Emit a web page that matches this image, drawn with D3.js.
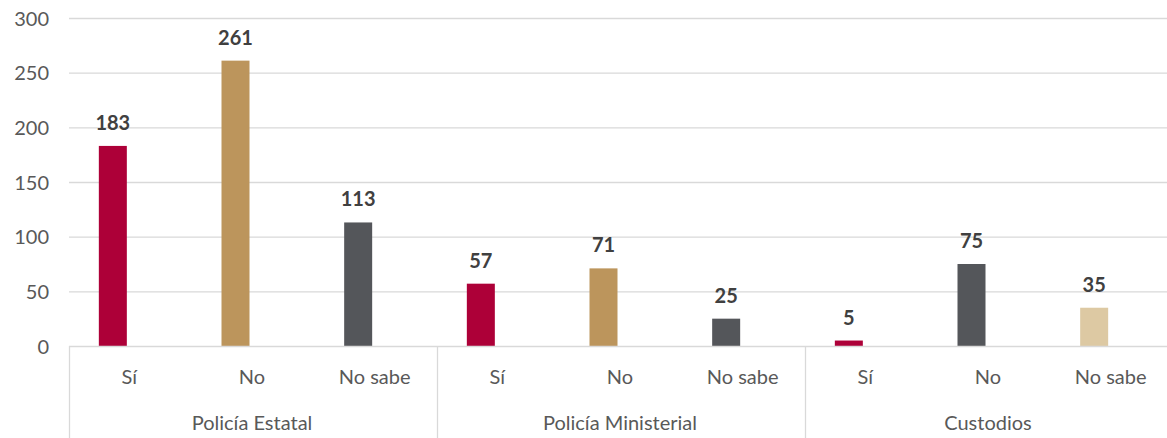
<!DOCTYPE html>
<html><head><meta charset="utf-8">
<script src="https://cdn.jsdelivr.net/npm/d3@7"></script>
<style>body{margin:0;background:#fff;overflow:hidden}svg{display:block}</style>
</head><body>
<svg id="c" width="1167" height="438"></svg>
<script>
const groups = ["Policía Estatal", "Policía Ministerial", "Custodios"];
const categories = ["Sí", "No", "No sabe"];
const values = [[183, 261, 113], [57, 71, 25], [5, 75, 35]];
const barColors = [["#AD0038", "#BC955C", "#54565A"], ["#AD0038", "#BC955C", "#54565A"], ["#AD0038", "#54565A", "#DDC9A3"]];
const yTicks = [0, 50, 100, 150, 200, 250, 300];

(function () {
const svg = d3.select("#c");
const mLeft = 69, mRight = 1173, mTop = 18, mBottom = 346;
const font = "Lato, 'Open Sans', sans-serif";
const y = d3.scaleLinear().domain([0, 300]).range([mBottom, mTop]);

const items = [];
groups.forEach((g, gi) => categories.forEach((c, ci) => items.push({g, c, key: gi + "|" + ci, v: values[gi][ci], color: barColors[gi][ci]})));
const xg = d3.scaleBand().domain(groups).range([mLeft, mRight]);
const x = d3.scaleBand().domain(items.map(d => d.key)).range([mLeft, mRight]);

// gridlines
svg.append("g").selectAll("line").data(yTicks.filter(t => t > 0)).join("line")
  .attr("x1", mLeft).attr("x2", mRight).attr("y1", d => y(d) + 0.5).attr("y2", d => y(d) + 0.5)
  .attr("stroke", "#D9D9D9").attr("stroke-width", 1.3);

// y axis
const ya = svg.append("g").attr("transform", `translate(${mLeft - 20},0)`)
  .call(d3.axisLeft(y).tickValues(yTicks).tickSize(0).tickPadding(0));
ya.select(".domain").remove();
ya.selectAll("text").attr("font-family", font).attr("font-size", 20).attr("fill", "#595959").attr("dy", "0.35em");

// bars
const bw = 28, off = -17.5;
svg.append("g").selectAll("rect").data(items).join("rect")
  .attr("x", d => x(d.key) + x.bandwidth() / 2 + off - bw / 2)
  .attr("width", bw)
  .attr("y", d => y(d.v))
  .attr("height", d => y(0) - y(d.v))
  .attr("fill", d => d.color);

// data labels
svg.append("g").selectAll("text").data(items).join("text")
  .attr("x", d => x(d.key) + x.bandwidth() / 2 + off)
  .attr("y", d => y(d.v) - 16)
  .attr("text-anchor", "middle")
  .attr("font-family", font).attr("font-weight", "bold").attr("font-size", 20).attr("fill", "#404040")
  .text(d => d.v);

// x axis baseline and separators
svg.append("line").attr("x1", mLeft).attr("x2", mRight).attr("y1", mBottom + 0.5).attr("y2", mBottom + 0.5)
  .attr("stroke", "#D9D9D9").attr("stroke-width", 1.3);
const seps = groups.map(g => xg(g)).concat([mRight]);
svg.append("g").selectAll("line").data(seps).join("line")
  .attr("x1", d => d + 0.5).attr("x2", d => d + 0.5).attr("y1", mBottom).attr("y2", 438)
  .attr("stroke", "#D9D9D9").attr("stroke-width", 1.3);

// category labels
svg.append("g").selectAll("text").data(items).join("text")
  .attr("x", d => x(d.key) + x.bandwidth() / 2 - 1)
  .attr("y", 384)
  .attr("text-anchor", "middle")
  .attr("font-family", font).attr("font-size", 20).attr("fill", "#595959")
  .text(d => d.c);

// group labels
svg.append("g").selectAll("text").data(groups).join("text")
  .attr("x", d => xg(d) + xg.bandwidth() / 2 - 1)
  .attr("y", 430)
  .attr("text-anchor", "middle")
  .attr("font-family", font).attr("font-size", 20).attr("fill", "#595959")
  .text(d => d);
})();
</script>
</body></html>
